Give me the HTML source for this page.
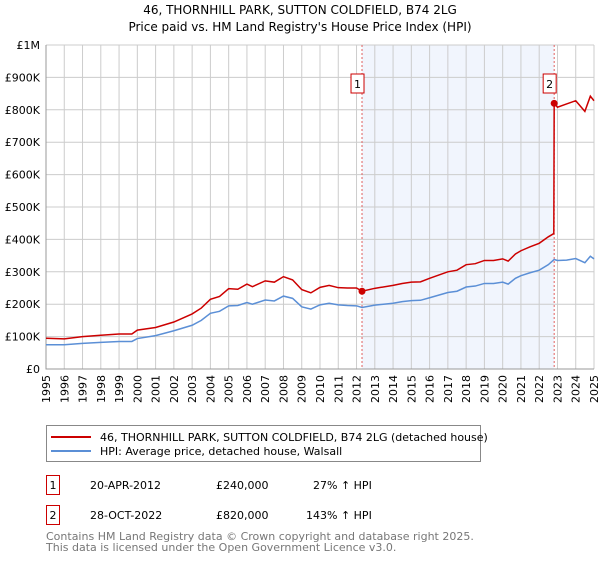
<!DOCTYPE html>
<html><head><meta charset="utf-8"><style>
body{margin:0;background:#fff;font-family:"Liberation Sans","DejaVu Sans",sans-serif;}
svg text{font-family:"DejaVu Sans","Liberation Sans",sans-serif;}
</style></head><body>
<svg id="c" width="600" height="560" viewBox="0 0 600 560" xmlns="http://www.w3.org/2000/svg">
<text x="300" y="14" font-size="12" text-anchor="middle">46, THORNHILL PARK, SUTTON COLDFIELD, B74 2LG</text>
<text x="300" y="31" font-size="12" text-anchor="middle">Price paid vs. HM Land Registry's House Price Index (HPI)</text>
<g id="plot"></g>
<g>
<rect x="46.5" y="425.5" width="434" height="36" fill="#fff" stroke="#888"/>
<line x1="51" y1="437" x2="91" y2="437" stroke="#cc0000" stroke-width="2"/>
<text x="100" y="441" font-size="11">46, THORNHILL PARK, SUTTON COLDFIELD, B74 2LG (detached house)</text>
<line x1="51" y1="451" x2="91" y2="451" stroke="#5b8fd6" stroke-width="2"/>
<text x="100" y="455" font-size="11">HPI: Average price, detached house, Walsall</text>
</g>
<g font-size="11">
<rect x="46.5" y="475.5" width="13" height="19" fill="#fff" stroke="#cc0000"/>
<text x="53" y="489" text-anchor="middle">1</text>
<text x="90" y="489">20-APR-2012</text>
<text x="216" y="489">£240,000</text>
<text x="313" y="489">27% ↑ HPI</text>
<rect x="46.5" y="505.5" width="13" height="19" fill="#fff" stroke="#cc0000"/>
<text x="53" y="519" text-anchor="middle">2</text>
<text x="90" y="519">28-OCT-2022</text>
<text x="216" y="519">£820,000</text>
<text x="306" y="519">143% ↑ HPI</text>
</g>
<text x="46" y="540" font-size="11" fill="#777">Contains HM Land Registry data © Crown copyright and database right 2025.</text>
<text x="46" y="551" font-size="11" fill="#777">This data is licensed under the Open Government Licence v3.0.</text>
</svg>
<script>
const hpiT=[1995,1996,1997,1998,1999,1999.7,2000,2001,2002,2003,2003.5,2004,2004.5,2005,2005.5,2006,2006.3,2007,2007.5,2008,2008.5,2009,2009.5,2010,2010.5,2011,2011.5,2012,2012.3,2013,2014,2014.5,2015,2015.5,2016,2016.5,2017,2017.5,2018,2018.5,2019,2019.5,2020,2020.3,2020.7,2021,2021.5,2022,2022.5,2022.82,2023,2023.5,2024,2024.5,2024.8,2025];
const hpiV=[75,75,79,82,85,85,94,103,118,135,150,172,178,195,196,205,200,213,210,225,218,192,185,198,203,198,196,195,190,197,203,208,211,212,220,228,236,240,253,256,264,264,268,262,280,288,297,305,322,338,335,336,341,328,348,340];
const redT=[1995,1996,1997,1998,1999,1999.7,2000,2001,2002,2003,2003.5,2004,2004.5,2005,2005.5,2006,2006.3,2007,2007.5,2008,2008.5,2009,2009.5,2010,2010.5,2011,2011.5,2012,2012.3,2013,2014,2014.5,2015,2015.5,2016,2016.5,2017,2017.5,2018,2018.5,2019,2019.5,2020,2020.3,2020.7,2021,2021.5,2022,2022.5,2022.8,2022.82,2023,2023.5,2024,2024.5,2024.8,2025];
const redV=[95,93,100,104,108,108,120,128,145,170,188,215,224,248,246,262,254,272,268,285,275,245,235,252,258,251,250,250,240,249,258,264,268,269,280,290,300,305,322,325,335,335,340,333,355,365,377,388,408,418,820,808,818,828,795,842,828];
const saleT=[2012.3,2022.82];
const saleV=[240,820];
const saleLabels=["1","2"];
const yTicks=[0,100,200,300,400,500,600,700,800,900,1000];
const yLabels=["£0","£100K","£200K","£300K","£400K","£500K","£600K","£700K","£800K","£900K","£1M"];
const years=[1995,1996,1997,1998,1999,2000,2001,2002,2003,2004,2005,2006,2007,2008,2009,2010,2011,2012,2013,2014,2015,2016,2017,2018,2019,2020,2021,2022,2023,2024,2025];

const X0=46,X1=594,Y0=369,Y1=45;
const xs=t=>X0+(t-1995)/30*(X1-X0);
const ys=v=>Y0-v/1000*(Y0-Y1);
const NS="http://www.w3.org/2000/svg";
const g=document.getElementById('plot');
function mk(tag,attrs,parent){const e=document.createElementNS(NS,tag);for(const k in attrs)e.setAttribute(k,attrs[k]);(parent||g).appendChild(e);return e;}

const shade=mk('rect',{x:xs(saleT[0]),y:Y1,width:xs(saleT[1])-xs(saleT[0]),height:Y0-Y1,fill:'#eef2fc',opacity:0.8});


years.forEach(y=>{
  const l=mk('line',{x1:xs(y),y1:Y1,x2:xs(y),y2:Y0,stroke:'#ccc','stroke-width':1});
  
  
  const px=xs(y)+4, py=Y0+6;
  const t=mk('text',{x:px,y:py,'font-size':11,'text-anchor':'end'});
  t.setAttribute('transform','rotate(-90 '+px+' '+py+')');
  t.textContent=y;
  
  
});
yTicks.forEach((v,i)=>{
  const l=mk('line',{x1:X0,y1:ys(v),x2:X1,y2:ys(v),stroke:'#ccc','stroke-width':1});
  
  
  const t=mk('text',{x:X0-6,y:ys(v)+4,'font-size':11,'text-anchor':'end'});
  t.textContent=yLabels[i];
  
  
});
const ax=mk('path',{d:`M${X0},${Y1}V${Y0}H${X1}`,stroke:'#999',fill:'none'});


saleT.forEach((t,i)=>{
  const l=mk('line',{x1:xs(t),y1:Y1,x2:xs(t),y2:Y0,stroke:'#e06060','stroke-dasharray':'2,2','stroke-width':1});
  
  
  const r=mk('rect',{x:xs(t)-11,y:74,width:13,height:19,fill:'#fff',stroke:'#cc0000'});
  
  
  const tx=mk('text',{x:xs(t)-4.5,y:88,'font-size':11,'text-anchor':'middle'});
  tx.textContent=saleLabels[i];
  
  
});
const hp=mk('polyline',{points:hpiT.map((t,i)=>xs(t)+','+ys(hpiV[i])).join(' '),fill:'none',stroke:'#5b8fd6','stroke-width':1.5});


const rp=mk('polyline',{points:redT.map((t,i)=>xs(t)+','+ys(redV[i])).join(' '),fill:'none',stroke:'#cc0000','stroke-width':1.5});


saleT.forEach((t,i)=>{
  const c=mk('circle',{cx:xs(t),cy:ys(saleV[i]),r:3.5,fill:'#cc0000'});
  
  
});
</script>
</body></html>
